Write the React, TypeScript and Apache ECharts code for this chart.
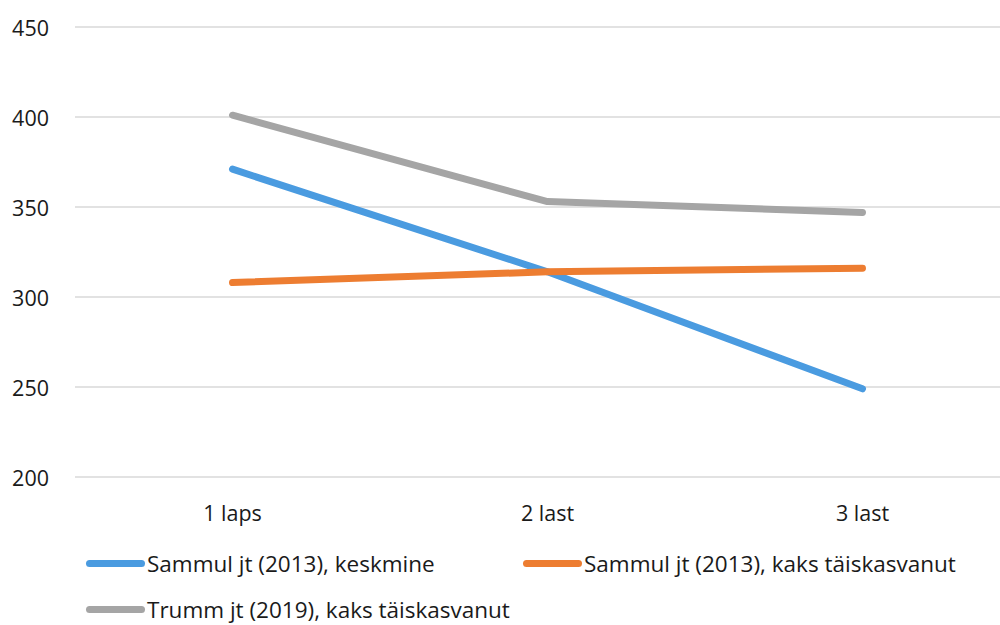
import React, { useEffect, useRef } from "react";
import * as echarts from "echarts";

const categories = ["1 laps", "2 last", "3 last"];
const seriesNames = [
  "Sammul jt (2013), keskmine",
  "Sammul jt (2013), kaks täiskasvanut",
  "Trumm jt (2019), kaks täiskasvanut",
];
const keskmine = [371, 314, 249];
const kaksTaiskasvanut2013 = [308, 314, 316];
const kaksTaiskasvanut2019 = [401, 353, 347];
const yTicks = { min: 200, max: 450, interval: 50 };

const colors = ["#4A9BE0", "#ED7D31", "#A5A5A5"];
const font = "'Open Sans', 'Noto Sans', sans-serif";
const icon = "path://M3.5,0 H55.5 A3.5,3.5 0 0 1 55.5,7 H3.5 A3.5,3.5 0 0 1 3.5,0 Z";

export default function App() {
  const ref = useRef<HTMLDivElement>(null);
  useEffect(() => {
    if (!ref.current) return;
    const chart = echarts.init(ref.current, undefined, { renderer: "svg" });
    const data = [keskmine, kaksTaiskasvanut2013, kaksTaiskasvanut2019];
    const legendPos = [
      { left: 86, top: 552 },
      { left: 523, top: 552 },
      { left: 86, top: 598 },
    ];
    chart.setOption({
      animation: false,
      backgroundColor: "#ffffff",
      textStyle: { fontFamily: font },
      grid: {
        left: 75,
        top: 27,
        width: 945,
        height: 450,
        containLabel: false,
        outerBoundsMode: "none",
      },
      xAxis: {
        type: "category",
        data: categories,
        boundaryGap: true,
        axisLine: { show: false },
        axisTick: { show: false },
        axisLabel: { color: "#1a1a1a", fontSize: 21.5, margin: 24, fontFamily: font },
      },
      yAxis: {
        type: "value",
        min: yTicks.min,
        max: yTicks.max,
        interval: yTicks.interval,
        axisLine: { show: false },
        axisTick: { show: false },
        axisLabel: { color: "#1a1a1a", fontSize: 21.5, margin: 26, fontFamily: font },
        splitLine: { lineStyle: { color: "#D9D9D9", width: 1.5 } },
      },
      legend: seriesNames.map((n, i) => ({
        data: [n],
        left: legendPos[i].left,
        top: legendPos[i].top,
        icon,
        itemWidth: 59,
        itemHeight: 7,
        itemGap: 0,
        padding: 0,
        selectedMode: false,
        textStyle: { color: "#1a1a1a", fontSize: 22.5, fontFamily: font, padding: [0, 0, 0, -3] },
      })),
      series: seriesNames.map((n, i) => ({
        name: n,
        type: "line",
        data: data[i],
        symbol: "none",
        color: colors[i],
        lineStyle: { width: 7, cap: "round", join: "round", color: colors[i] },
        itemStyle: { color: colors[i] },
      })),
    });
    return () => chart.dispose();
  }, []);
  return (
    <div
      ref={ref}
      style={{ position: "fixed", left: 0, top: 0, width: 1000, height: 625, background: "#fff" }}
    />
  );
}
